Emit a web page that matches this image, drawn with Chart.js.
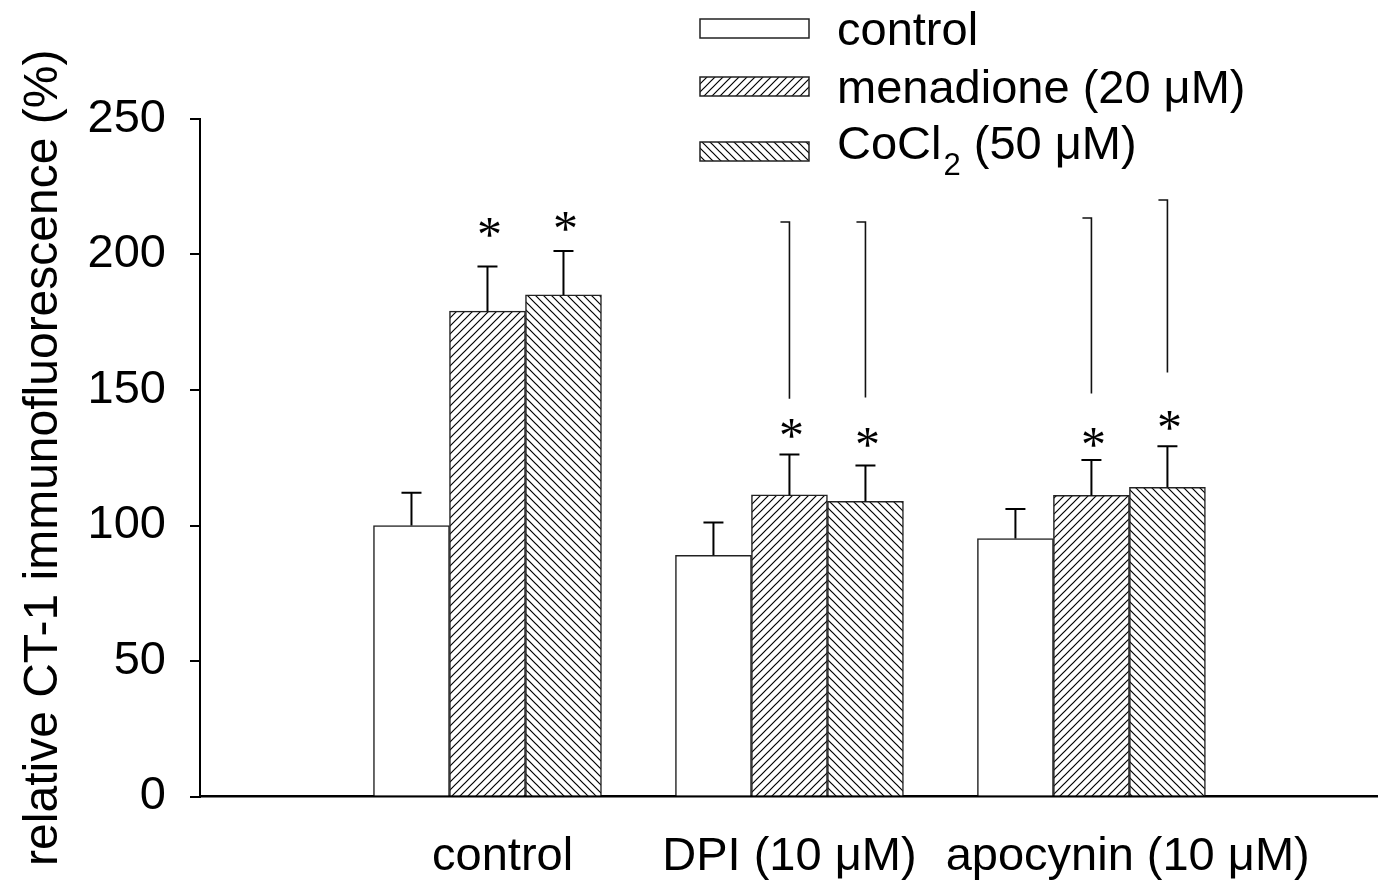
<!DOCTYPE html>
<html>
<head>
<meta charset="utf-8">
<script src="https://cdn.jsdelivr.net/npm/chart.js@4"></script>
<style>
  body { margin: 0; background: #fff; }
  #wrap { width: 1378px; height: 887px; }
</style>
</head>
<body>
<div id="wrap"><canvas id="myChart"></canvas></div>
<script>
// groups on the x axis and where they sit on the (linear) x scale
const groups = ["control", "DPI (10 μM)", "apocynin (10 μM)"];
const groupX = [1, 2, 3];
const seriesNames = ["control", "menadione (20 μM)", "CoCl2 (50 μM)"];

// bar heights (%)
const controlVals = [100.0, 89.0, 95.2];
const menadioneVals = [179.1, 111.3, 111.1];
const cocl2Vals = [185.1, 108.9, 114.1];

// top of the error bars (%)
const controlErr = [112.1, 101.1, 106.1];
const menadioneErr = [195.6, 126.2, 124.2];
const cocl2Err = [201.3, 122.1, 129.2];

// asterisks (height in %), null = none
const menadioneStar = [210.0, 136.1, 132.8];
const cocl2Star = [212.2, 132.8, 139.1];

// comparison lines: top and bottom (%)
const menadioneSigTop = [null, 211.9, 213.3];
const menadioneSigBot = [null, 146.8, 148.7];
const cocl2SigTop = [null, 211.9, 220.0];
const cocl2SigBot = [null, 147.2, 156.5];

const yTicks = [0, 50, 100, 150, 200, 250];

const FONT = '"Liberation Sans", Arial, Helvetica, sans-serif';
const labelNudge = [0.05, 0, 0.12];   // x labels are not quite centred in the original

function makeHatch(forward) {
    const s = 8;
    const c = document.createElement('canvas');
    c.width = s; c.height = s;
    const g = c.getContext('2d');
    g.fillStyle = '#fff';
    g.fillRect(0, 0, s, s);
    g.strokeStyle = '#000';
    g.lineWidth = 1.2;
    g.beginPath();
    if (forward) {
        g.moveTo(-1, s + 1); g.lineTo(s + 1, -1);
        g.moveTo(-1, 1); g.lineTo(1, -1);
        g.moveTo(s - 1, s + 1); g.lineTo(s + 1, s - 1);
    } else {
        g.moveTo(-1, -1); g.lineTo(s + 1, s + 1);
        g.moveTo(s - 1, -1); g.lineTo(s + 1, 1);
        g.moveTo(-1, s - 1); g.lineTo(1, s + 1);
    }
    g.stroke();
    return g.createPattern(c, 'repeat');
}

const fills = ['#ffffff', makeHatch(true), makeHatch(false)];
const allVals = [controlVals, menadioneVals, cocl2Vals];
const allErr = [controlErr, menadioneErr, cocl2Err];
const allStar = [[null, null, null], menadioneStar, cocl2Star];
const allSigTop = [[null, null, null], menadioneSigTop, cocl2SigTop];
const allSigBot = [[null, null, null], menadioneSigBot, cocl2SigBot];

const extras = {
    id: 'extras',
    afterDatasetsDraw(chart) {
        const ctx = chart.ctx;
        const y = chart.scales.y;
        ctx.save();
        chart.data.datasets.forEach((ds, di) => {
            const meta = chart.getDatasetMeta(di);
            meta.data.forEach((bar, i) => {
                const x = bar.x;
                // error bar, upper half only
                const top = y.getPixelForValue(allErr[di][i]);
                ctx.strokeStyle = '#000';
                ctx.lineWidth = 2;
                ctx.beginPath();
                ctx.moveTo(x, bar.y);
                ctx.lineTo(x, top);
                ctx.moveTo(x - 10, top);
                ctx.lineTo(x + 10, top);
                ctx.stroke();
                // asterisk
                if (allStar[di][i] != null) {
                    const sy = y.getPixelForValue(allStar[di][i]);
                    ctx.fillStyle = '#000';
                    ctx.font = '50px "Liberation Serif", "Times New Roman", serif';
                    ctx.textAlign = 'center';
                    ctx.textBaseline = 'alphabetic';
                    ctx.fillText('*', x + 2, sy + 24);
                }
                // comparison line
                if (allSigTop[di][i] != null) {
                    const t = Math.round(y.getPixelForValue(allSigTop[di][i]));
                    const b = y.getPixelForValue(allSigBot[di][i]);
                    ctx.strokeStyle = '#111';
                    ctx.lineWidth = 1.6;
                    ctx.beginPath();
                    ctx.moveTo(x - 9, t);
                    ctx.lineTo(x, t);
                    ctx.lineTo(x, b);
                    ctx.stroke();
                }
            });
        });
        ctx.restore();
    },
    afterDraw(chart) {
        // legend, stacked in the upper right
        const ctx = chart.ctx;
        const boxTops = [19, 77, 142];
        const baselines = [45, 103, 159];
        ctx.save();
        seriesNames.forEach((name, i) => {
            ctx.fillStyle = fills[i];
            ctx.fillRect(700, boxTops[i], 109, 19);
            ctx.strokeStyle = '#222';
            ctx.lineWidth = 1.5;
            ctx.strokeRect(700, boxTops[i], 109, 19);
            ctx.fillStyle = '#000';
            ctx.textAlign = 'left';
            ctx.textBaseline = 'alphabetic';
            ctx.font = '47px ' + FONT;
            const m = name.match(/^(.*?)(\d)( .*)$/);
            if (name.startsWith('CoCl') && m) {
                ctx.fillText(m[1], 837, baselines[i]);
                let xx = 837 + ctx.measureText(m[1]).width + 2;
                ctx.font = '31px ' + FONT;
                ctx.fillText(m[2], xx, baselines[i] + 16);
                xx += ctx.measureText(m[2]).width;
                ctx.font = '47px ' + FONT;
                ctx.fillText(m[3], xx, baselines[i]);
            } else {
                ctx.fillText(name, 837, baselines[i]);
            }
        });
        ctx.restore();
    }
};

new Chart("myChart", {
    type: "bar",
    data: {
        datasets: seriesNames.map((name, di) => ({
            label: name,
            data: groupX.map((gx, i) => ({ x: gx, y: allVals[di][i] })),
            backgroundColor: fills[di],
            borderColor: '#222',
            borderWidth: 1.5,
            barThickness: 76
        }))
    },
    options: {
        responsive: true,
        maintainAspectRatio: false,
        animation: false,
        events: [],
        layout: { padding: { top: 119, right: 0, left: 0, bottom: 0 } },
        plugins: {
            legend: { display: false },
            tooltip: { enabled: false }
        },
        scales: {
            x: {
                type: 'linear',
                offset: false,
                min: 0.048,
                max: 3.949,
                afterBuildTicks: s => { s.ticks = groupX.map((v, i) => ({ value: v + labelNudge[i] })); },
                afterFit: s => { s.height = 90.5; },
                grid: { display: false, drawTicks: false },
                border: { display: true, color: '#000', width: 2.5 },
                ticks: {
                    autoSkip: false,
                    maxRotation: 0,
                    padding: 32,
                    color: '#000',
                    font: { family: FONT, size: 47 },
                    callback: (v, i) => groups[i]
                }
            },
            y: {
                min: 0,
                max: 250,
                afterBuildTicks: s => { s.ticks = yTicks.map(v => ({ value: v })); },
                afterFit: s => { s.width = 200; },
                grid: { display: true, drawOnChartArea: false, drawTicks: true, tickLength: 10, color: '#000', lineWidth: 2 },
                border: { display: true, color: '#000', width: 2 },
                ticks: {
                    padding: 24,
                    color: '#000',
                    font: { family: FONT, size: 47 }
                },
                title: {
                    display: true,
                    text: 'relative CT-1 immunofluorescence (%)',
                    color: '#000',
                    font: { family: FONT, size: 48 },
                    padding: { top: 15, bottom: 0 }
                }
            }
        }
    },
    plugins: [extras]
});
</script>
</body>
</html>
